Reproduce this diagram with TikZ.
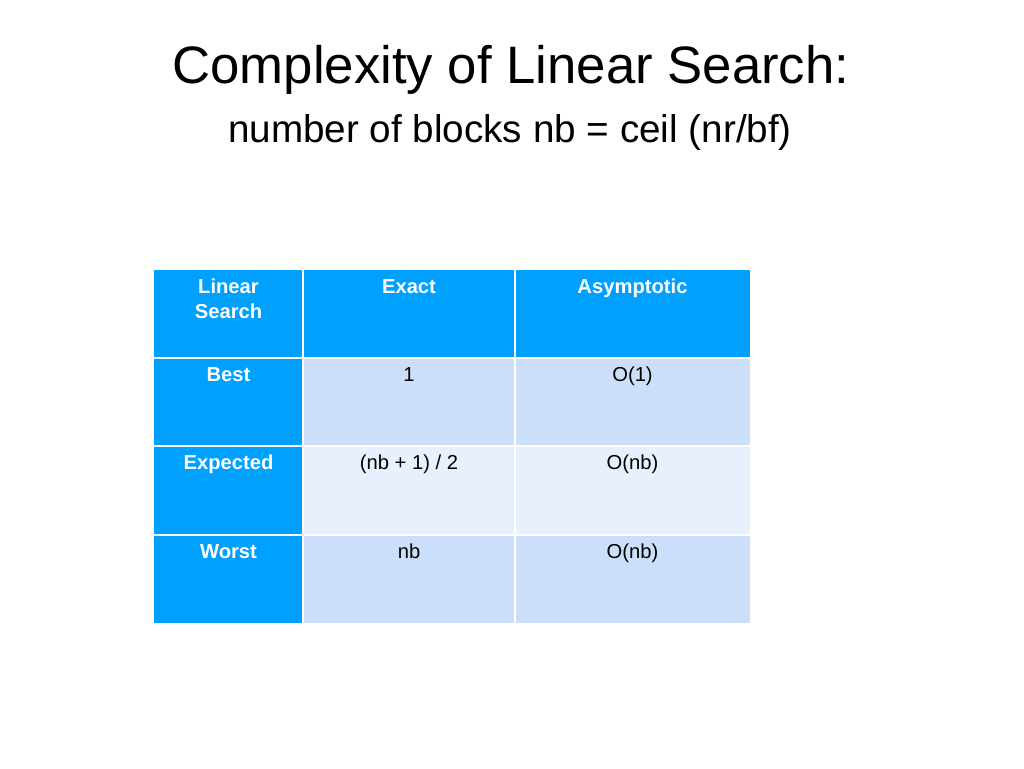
\documentclass[tikz,border=0pt]{standalone}
\usepackage{fontspec}
\setmainfont{Liberation Sans}
\usetikzlibrary{positioning}
\definecolor{headblue}{HTML}{00A0FF}
\definecolor{celldark}{HTML}{CBDFFA}
\definecolor{celllight}{HTML}{E7F0FC}
\tikzset{
  cell/.style={draw=white,line width=1.2pt},
  celltext/.style={anchor=north,font=\fontsize{11.5}{14}\selectfont,align=center},
  headtext/.style={celltext,text=white,font=\bfseries\fontsize{11.5}{14}\selectfont}
}
\begin{document}
\begin{tikzpicture}[x=0.02cm,y=-0.02cm]
\useasboundingbox (0,0) rectangle (1024,768);
% title
\node (title) at (511,70) {\fontsize{30}{36}\selectfont Complexity of Linear Search:};
\node (subtitle) at (510,132) {\fontsize{22}{26}\selectfont number of blocks nb = ceil (nr/bf)};

% header row and first column
\fill[headblue] (154,270) rectangle (750,358);
\fill[headblue] (154,358) rectangle (303,623);
% body cells
\fill[celldark] (303,358) rectangle (750,446);
\fill[celllight] (303,446) rectangle (750,535);
\fill[celldark] (303,535) rectangle (750,623);
% grid
\foreach \x in {303,515} \draw[cell] (\x,270) -- (\x,623);
\foreach \y in {358,446,535} \draw[cell] (154,\y) -- (750,\y);

% header texts
\node[headtext] (hname) at (228.5,273) {Linear\\Search};
\node[headtext] (hexact) at (409,273) {Exact};
\node[headtext] (hasym) at (632.5,273) {Asymptotic};
% rows
\node[headtext] (best) at (228.5,361) {Best};
\node[celltext] (bestex) at (409,361) {1};
\node[celltext] (bestas) at (632.5,361) {O(1)};
\node[headtext] (expd) at (228.5,449) {Expected};
\node[celltext] (expdex) at (409,449) {(nb + 1) / 2};
\node[celltext] (expdas) at (632.5,449) {O(nb)};
\node[headtext] (worst) at (228.5,538) {Worst};
\node[celltext] (worstex) at (409,538) {nb};
\node[celltext] (worstas) at (632.5,538) {O(nb)};
\end{tikzpicture}
\end{document}
